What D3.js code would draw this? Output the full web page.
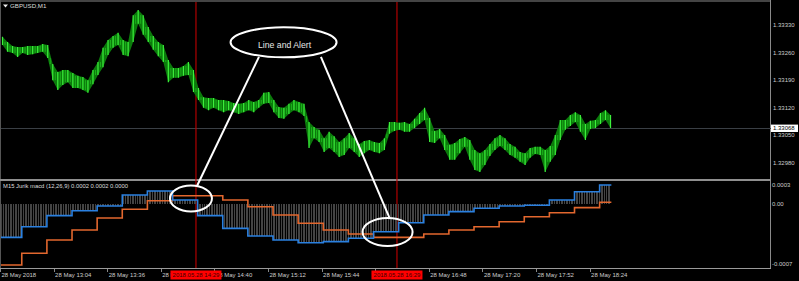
<!DOCTYPE html>
<html><head><meta charset="utf-8">
<script src="https://cdn.jsdelivr.net/npm/d3@7"></script>
<style>
html,body{margin:0;padding:0;background:#000;overflow:hidden}
svg{display:block}
text{font-family:"Liberation Sans",Arial,sans-serif}
</style></head><body>
<svg id="c" width="799" height="281"></svg>
<script>
// ---------------- data ----------------
const symbolTitle = "GBPUSD,M1";
const indicatorTitle = "M15 Jurik macd (12,26,9) 0.0002 0.0002 0.0000";
const day = "2018-05-28";
const barStart = "12:32";          // first price bucket
const barMinutes = 3;              // each bucket = 3 minutes of M1 data
const highs = [
1.33300,1.33287,1.33277,1.33274,1.33274,1.33277,1.33277,1.33277,1.33282,1.33279,
1.33231,1.33211,1.33216,1.33216,1.33208,1.33201,1.33198,1.33190,1.33216,1.33236,
1.33272,1.33292,1.33302,1.33310,1.33292,1.33287,1.33355,1.33368,1.33355,1.33325,
1.33302,1.33287,1.33279,1.33241,1.33221,1.33221,1.33226,1.33236,1.33216,1.33170,
1.33147,1.33145,1.33145,1.33140,1.33140,1.33137,1.33132,1.33130,1.33132,1.33140,
1.33135,1.33140,1.33158,1.33160,1.33140,1.33122,1.33120,1.33130,1.33140,1.33135,
1.33130,1.33084,1.33071,1.33064,1.33043,1.33059,1.33048,1.33033,1.33043,1.33056,
1.33043,1.33028,1.33036,1.33038,1.33033,1.33031,1.33043,1.33084,1.33084,1.33082,
1.33084,1.33079,1.33092,1.33107,1.33120,1.33094,1.33061,1.33066,1.33051,1.33026,
1.33031,1.33041,1.33046,1.33038,1.33013,1.33005,1.33013,1.33028,1.33043,1.33051,
1.33043,1.33028,1.33021,1.33008,1.33005,1.33018,1.33021,1.33021,1.33013,1.33023,
1.33051,1.33089,1.33089,1.33102,1.33109,1.33102,1.33079,1.33087,1.33089,1.33107,
1.33114,1.33102];
const lows = [
1.33279,1.33262,1.33259,1.33249,1.33259,1.33254,1.33256,1.33259,1.33262,1.33246,
1.33190,1.33165,1.33178,1.33185,1.33170,1.33170,1.33165,1.33158,1.33180,1.33203,
1.33223,1.33254,1.33272,1.33279,1.33254,1.33251,1.33287,1.33333,1.33305,1.33287,
1.33267,1.33251,1.33236,1.33185,1.33196,1.33196,1.33201,1.33203,1.33160,1.33140,
1.33120,1.33114,1.33120,1.33114,1.33109,1.33114,1.33109,1.33104,1.33109,1.33114,
1.33109,1.33120,1.33130,1.33132,1.33109,1.33094,1.33092,1.33104,1.33114,1.33109,
1.33099,1.33018,1.33043,1.33033,1.33008,1.33018,1.33008,1.32995,1.33000,1.33018,
1.33008,1.32995,1.33005,1.33013,1.33008,1.33005,1.33013,1.33054,1.33061,1.33064,
1.33059,1.33059,1.33069,1.33079,1.33089,1.33033,1.33031,1.33043,1.33013,1.32988,
1.32988,1.33005,1.33021,1.32988,1.32962,1.32957,1.32975,1.32998,1.33013,1.33023,
1.33013,1.33000,1.32993,1.32983,1.32975,1.32993,1.33003,1.33000,1.32957,1.32983,
1.33000,1.33038,1.33064,1.33074,1.33084,1.33059,1.33038,1.33066,1.33069,1.33079,
1.33089,1.33069];
const currentPrice = 1.33068;
const priceTicks = [1.33330, 1.33260, 1.33190, 1.33120, 1.33050, 1.32980];

// M15 Jurik MACD, one value per 15-minute period starting 12:30
const macdStart = "12:30";
const macdEnd = "18:37";
const macdValues = [-0.000391,-0.000266,-0.000136,-0.000078,-0.000022,0.000107,0.000154,0.000048,
 -0.000136,-0.000285,-0.000375,-0.000422,-0.000454,-0.000442,-0.000402,-0.000325,-0.000219,
 -0.000128,-0.000089,-0.000049,-0.000022,-0.000014,0.000048,0.000146,0.000225];
const signalValues = [-0.000716,-0.000579,-0.000422,-0.000305,-0.000164,-0.000061,0.000040,0.000099,
 0.000099,0.000048,-0.000031,-0.000128,-0.000226,-0.000305,-0.000352,-0.000391,-0.000391,
 -0.000352,-0.000305,-0.000266,-0.000207,-0.000148,-0.000101,-0.000042,0.000021];
const macdTickValues = [0.0003, 0.0, -0.0007];
const macdTickLabels = ["0.0003", "0.00", "-0.0007"];

const timeTicks = ["12:32","13:04","13:36","14:08","14:40","15:12","15:44","16:16","16:48","17:20","17:52","18:24"];
const timeTickLabels = ["28 May 2018","28 May 13:04","28 May 13:36","28 May 14:08","28 May 14:40","28 May 15:12",
 "28 May 15:44","28 May 16:16","28 May 16:48","28 May 17:20","28 May 17:52","28 May 18:24"];
const alertLines = ["14:29","16:29"];
const alertLabels = ["2018.05.28 14:29","2018.05.28 16:29"];

const annotationText = "Line and Alert";
const calloutCenter = {time:"15:21:18", price:1.33286};
const alertCircles = [{time:"14:26:00", value:0.000066},{time:"16:23:24", value:-0.000328}];
const calloutLines = [
  {fromTime:"15:06:36", fromPrice:1.33249, toTime:"14:29:36", toValue:0.000213},
  {fromTime:"15:43:36", fromPrice:1.33249, toTime:"16:24:48", toValue:-0.000175}];

// ---------------- layout ----------------
const parse = d3.timeParse("%Y-%m-%d %H:%M:%S");
const tm = s => parse(day + " " + (s.length === 5 ? s + ":00" : s));
const W = 799, H = 281;
const axisX = 770.5;
const mainTop = 2, mainBottom = 179;
const indTop = 182, indBottom = 267;

const x = d3.scaleTime().domain([tm("12:32"), tm("20:27")]).range([0, 795.6]);
const y = d3.scaleLinear().domain([1.329394, 1.333883]).range([mainBottom, mainTop]);
const yi = d3.scaleLinear().domain([-0.00074, 0.00026]).range([indBottom, indTop]);

const svg = d3.select("#c");
svg.append("rect").attr("width", W).attr("height", H).attr("fill", "#000");

const defs = svg.append("defs");
defs.append("clipPath").attr("id","cm").append("rect").attr("x",1).attr("y",mainTop).attr("width",axisX-1).attr("height",mainBottom-mainTop);
defs.append("clipPath").attr("id","ci").append("rect").attr("x",1).attr("y",indTop).attr("width",axisX-1).attr("height",indBottom-indTop);

// frame
const frame = svg.append("g").attr("shape-rendering","crispEdges");
frame.append("rect").attr("x",0).attr("y",0).attr("width",axisX).attr("height",1.7).attr("fill","#444");
frame.append("line").attr("x1",0.5).attr("x2",0.5).attr("y1",0).attr("y2",268).attr("stroke","#555");
frame.append("line").attr("x1",axisX).attr("x2",axisX).attr("y1",0).attr("y2",268.5).attr("stroke","#8a8a8a");
frame.append("rect").attr("x",0).attr("y",179).attr("width",axisX).attr("height",2).attr("fill","#8f8f8f");
frame.append("line").attr("x1",0).attr("x2",axisX).attr("y1",268.5).attr("y2",268.5).attr("stroke","#9a9a9a");

// current price line
svg.append("line").attr("x1",1).attr("x2",axisX).attr("y1",Math.round(y(currentPrice))+0.5).attr("y2",Math.round(y(currentPrice))+0.5)
  .attr("stroke","#3a3f45").attr("shape-rendering","crispEdges");

// alert vertical lines (background)
svg.append("g").selectAll("line").data(alertLines).join("line")
  .attr("x1", d => x(tm(d))).attr("x2", d => x(tm(d)))
  .attr("y1", 2).attr("y2", 268).attr("stroke", "#c00000").attr("stroke-width", 1.1);

// price bars: high/low envelope of each bucket
const bars = highs.map((h,i) => ({t: d3.timeMinute.offset(tm(barStart), i*barMinutes), h, l: lows[i]}));
const bw = x(d3.timeMinute.offset(tm(barStart), barMinutes)) - x(tm(barStart));
const gm = svg.append("g").attr("clip-path","url(#cm)");
const mid = d => x(d.t) + bw/2;
gm.append("path").datum(bars)
  .attr("d", d3.area().x(mid).y0(d => y(d.l)).y1(d => y(d.h)))
  .attr("fill", "#0b7a0b");
gm.selectAll("line.b").data(bars).join("line").attr("class","b")
  .attr("x1", mid).attr("x2", mid)
  .attr("y1", d => y(d.h)).attr("y2", d => y(d.l))
  .attr("stroke", "#3cf03c").attr("stroke-width", 1.2);
gm.selectAll("line.c").data(bars).join("line").attr("class","c")
  .attr("x1", d => x(d.t)).attr("x2", d => x(d.t))
  .attr("y1", (d,i) => y(Math.min(d.h, i ? highs[i-1] : d.h))).attr("y2", (d,i) => y(Math.max(d.l, i ? lows[i-1] : d.l)))
  .attr("stroke", "#1bb21b").attr("stroke-width", 1);

// indicator
const gi = svg.append("g").attr("clip-path","url(#ci)");
const t0 = tm(macdStart), tEnd = tm(macdEnd);
const periodOf = t => Math.floor((t - t0) / (15*60000));
const minutes = d3.timeMinute.range(tm("12:32"), tEnd);
gi.append("g").attr("shape-rendering","crispEdges").selectAll("line").data(minutes).join("line")
  .attr("x1", d => Math.floor(x(d))+0.5).attr("x2", d => Math.floor(x(d))+0.5)
  .attr("y1", yi(0)).attr("y2", d => yi(macdValues[periodOf(d)]))
  .attr("stroke", "#444");
const stepPts = arr => {
  const pts = arr.map((v,i) => [d3.timeMinute.offset(t0, 15*i), v]);
  pts.push([tEnd, arr[arr.length-1]]);
  return pts;
};
const ln = d3.line().x(d => x(d[0])).y(d => yi(d[1])).curve(d3.curveStepAfter);
gi.append("path").attr("d", ln(stepPts(signalValues))).attr("fill","none").attr("stroke","#e2672e").attr("stroke-width",1.6);
gi.append("path").attr("d", ln(stepPts(macdValues))).attr("fill","none").attr("stroke","#2a80e0").attr("stroke-width",1.6);

// titles
svg.append("path").attr("d","M3,4.5 L8,4.5 L5.5,7.5 Z").attr("fill","#eee");
svg.append("text").attr("x",10).attr("y",8.2).attr("font-size",6.2).attr("fill","#ddd").text(symbolTitle);
svg.append("text").attr("x",3).attr("y",188.2).attr("font-size",6).attr("fill","#ddd")
  .attr("textLength",125).attr("lengthAdjust","spacingAndGlyphs").text(indicatorTitle);

// price axis labels
svg.append("g").selectAll("text").data(priceTicks).join("text")
  .attr("x", 773).attr("y", d => y(d) + 2.1).attr("font-size", 6).attr("fill", "#ccc")
  .text(d => d.toFixed(5));
// current price box
svg.append("rect").attr("x",771).attr("y",y(currentPrice)-3.7).attr("width",27).attr("height",7.4).attr("fill","#fff");
svg.append("text").attr("x",773).attr("y",y(currentPrice)+2.1).attr("font-size",6).attr("fill","#000").text(currentPrice.toFixed(5));

// indicator axis labels (top/bottom labels kept inside pane)
svg.append("g").selectAll("text").data(macdTickValues).join("text")
  .attr("x", 772).attr("y", (d,i) => Math.min(Math.max(yi(d), 185), 266) + 2.1)
  .attr("font-size", 6).attr("fill", "#ccc").text((d,i) => macdTickLabels[i]);

// time axis
const ta = svg.append("g");
ta.selectAll("line").data(timeTicks).join("line")
  .attr("x1", d => Math.round(x(tm(d)))+0.5).attr("x2", d => Math.round(x(tm(d)))+0.5)
  .attr("y1", 268.5).attr("y2", 271.5).attr("stroke","#888").attr("shape-rendering","crispEdges");
ta.selectAll("text").data(timeTicks).join("text")
  .attr("x", d => x(tm(d)) + 1.5).attr("y", 277).attr("font-size", 6).attr("fill", "#ccc")
  .text((d,i) => timeTickLabels[i]);
// alert time labels
const al = svg.append("g").selectAll("g").data(alertLines).join("g")
  .attr("transform", d => `translate(${x(tm(d))},0)`);
al.append("rect").attr("x",-25.5).attr("y",270.5).attr("width",51).attr("height",9).attr("fill","#ff0000");
al.append("text").attr("x",0).attr("y",277.2).attr("text-anchor","middle").attr("font-size",6).attr("fill","#3a0000")
  .text((d,i) => alertLabels[i]);

// annotations
const ann = svg.append("g").attr("fill","none").attr("stroke","#fff").attr("stroke-width",2);
ann.selectAll("line").data(calloutLines).join("line")
  .attr("x1", d => x(tm(d.fromTime))).attr("y1", d => y(d.fromPrice))
  .attr("x2", d => x(tm(d.toTime))).attr("y2", d => yi(d.toValue));
ann.append("ellipse").attr("cx", x(tm(calloutCenter.time))).attr("cy", y(calloutCenter.price))
  .attr("rx", 53).attr("ry", 15).attr("fill","#000");
ann.selectAll("ellipse.a").data(alertCircles).join("ellipse").attr("class","a")
  .attr("cx", d => x(tm(d.time))).attr("cy", d => yi(d.value))
  .attr("rx", (d,i) => i ? 25 : 21).attr("ry", (d,i) => i ? 14 : 13);
svg.append("text").attr("x", x(tm(calloutCenter.time)) + 1).attr("y", y(calloutCenter.price) + 5.3)
  .attr("text-anchor","middle").attr("font-family","Lato, 'Open Sans', sans-serif").attr("font-size", 8.7)
  .attr("fill","#e6e6e6").text(annotationText);
</script>
</body></html>
